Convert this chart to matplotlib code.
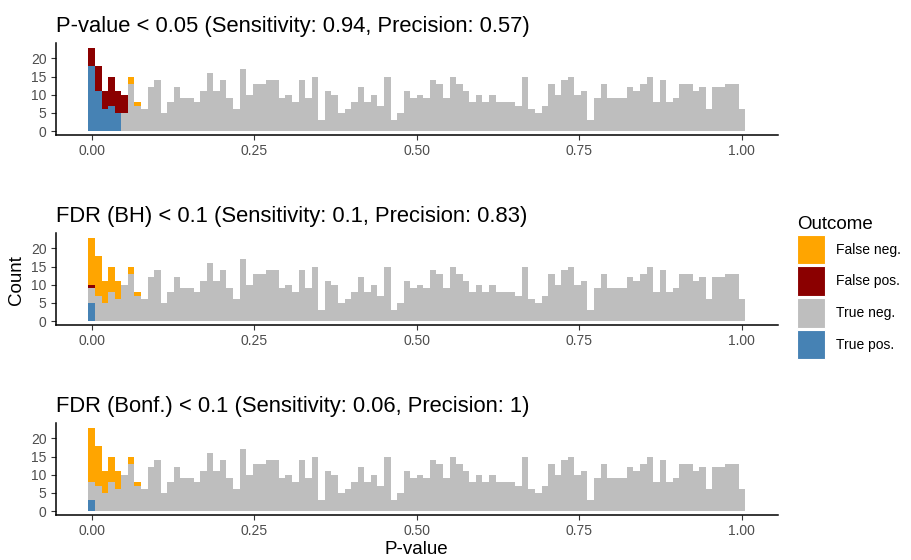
import matplotlib
matplotlib.use("Agg")
import matplotlib.pyplot as plt
from matplotlib.patches import Patch
import numpy as np

plt.rcParams['font.family'] = ['Liberation Sans', 'DejaVu Sans']

# counts per p-value bin (100 bins from 0 to 1)
counts = [23, 18, 11, 15, 11, 10, 15, 8, 6, 12,
          14, 5, 8, 12, 9, 9, 8, 11, 16, 11,
          14, 9, 6, 17, 10, 13, 13, 14, 14, 9,
          10, 8, 14, 9, 15, 3, 11, 10, 5, 6,
          8, 12, 8, 10, 7, 15, 3, 5, 11, 9,
          10, 9, 14, 13, 9, 15, 13, 11, 8, 10,
          8, 10, 8, 8, 8, 7, 15, 6, 5, 7,
          13, 10, 14, 15, 10, 11, 3, 9, 13, 9,
          9, 9, 12, 11, 13, 15, 8, 14, 8, 9,
          13, 13, 11, 12, 6, 12, 12, 13, 13, 6]

# true signals in the first bins (rest are nulls)
signal = [18, 11, 6, 7, 5, 0, 2, 1]

titles = ["P-value < 0.05 (Sensitivity: 0.94, Precision: 0.57)",
          "FDR (BH) < 0.1 (Sensitivity: 0.1, Precision: 0.83)",
          "FDR (Bonf.) < 0.1 (Sensitivity: 0.06, Precision: 1)"]
# true positives / false positives in the first bins for each method
tp_first = [[18, 11, 6, 7, 5], [5], [3]]
fp_first = [[5, 7, 5, 8, 6, 5], [1], []]

outcomes = ["False neg.", "False pos.", "True neg.", "True pos."]
colors = {"False neg.": "#FFA500", "False pos.": "#8B0000",
          "True neg.": "#BEBEBE", "True pos.": "#4682B4"}

n = len(counts)
width = 1 / (n - 1)
centers = np.arange(n) * width
total = np.array(counts, dtype=float)
sig = np.zeros(n)
sig[:len(signal)] = signal
null = total - sig

fig = plt.figure(figsize=(9.12, 5.6), dpi=100)
bottoms = [0.7586, 0.4193, 0.080]

for i in range(3):
    tp = np.zeros(n)
    tp[:len(tp_first[i])] = tp_first[i]
    fp = np.zeros(n)
    fp[:len(fp_first[i])] = fp_first[i]
    fn = sig - tp
    tn = null - fp
    ax = fig.add_axes([0.061, bottoms[i], 0.792, 0.164])
    base = np.zeros(n)
    for name, vals in [("True pos.", tp), ("True neg.", tn),
                       ("False pos.", fp), ("False neg.", fn)]:
        ax.bar(centers, vals, width=width, bottom=base, color=colors[name],
               linewidth=0, align="center")
        base = base + vals
    ax.set_xlim(-0.0556, 1.0556)
    ax.set_ylim(-1.15, 24.15)
    ax.set_yticks([0, 5, 10, 15, 20])
    ax.set_xticks([0, 0.25, 0.5, 0.75, 1.0])
    ax.set_xticklabels(["0.00", "0.25", "0.50", "0.75", "1.00"])
    for s in ["top", "right"]:
        ax.spines[s].set_visible(False)
    for s in ["left", "bottom"]:
        ax.spines[s].set_linewidth(1.1)
    ax.tick_params(axis="both", labelsize=10, labelcolor="#4D4D4D",
                   color="#333333", length=3.5, width=0.8, pad=3)
    ax.set_title(titles[i], loc="left", fontsize=15.8, pad=8)
    if i == 2:
        ax.set_xlabel("P-value", fontsize=13.5, labelpad=2)

fig.text(0.018, 0.5, "Count", rotation=90, fontsize=13.5, va="center", ha="center")

handles = [Patch(facecolor=colors[o], edgecolor="white", linewidth=0.8) for o in outcomes]
leg = fig.legend(handles, outcomes, loc="upper left", bbox_to_anchor=(0.868, 0.625),
                 frameon=False, fontsize=10, title="Outcome", title_fontsize=13.5,
                 handlelength=2.0, handleheight=2.9, labelspacing=0.15,
                 handletextpad=0.8, borderaxespad=0)
leg._legend_box.align = "left"

fig.savefig("out.png", dpi=100)
